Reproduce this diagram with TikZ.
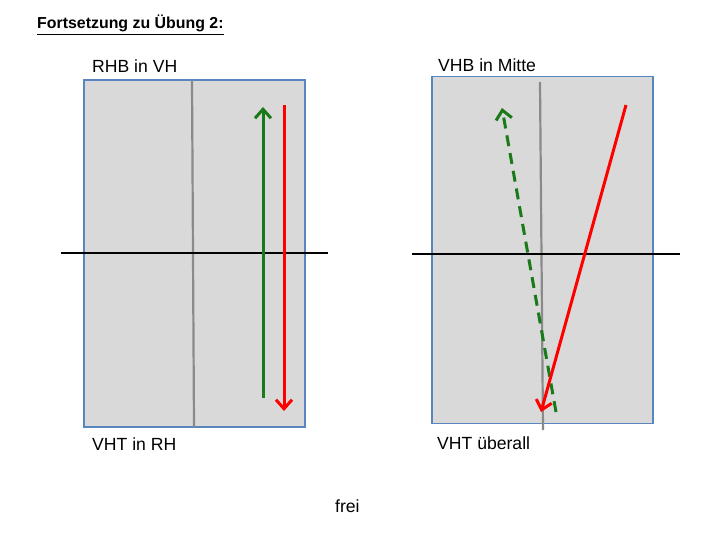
\documentclass[tikz,border=0pt]{standalone}
\usepackage{fontspec}
\setmainfont{Liberation Sans}
\usetikzlibrary{arrows.meta}
\definecolor{panelfill}{HTML}{D9D9D9}
\definecolor{panelborder}{HTML}{5A86C0}
\definecolor{divider}{HTML}{8A8A8A}
\definecolor{arrgreen}{HTML}{1A7A1A}
\definecolor{arrred}{HTML}{FF0000}
\tikzset{
  panel/.style={draw=panelborder, line width=1.6pt, fill=panelfill, minimum width=221pt, minimum height=347pt, inner sep=0pt, outer sep=0pt},
  divline/.style={draw=divider, line width=2.2pt},
  axisline/.style={draw=black, line width=1.7pt},
  arr/.style={line width=3pt, -{Straight Barb[length=9pt,width=16pt]}},
  lbl/.style={anchor=base west, inner sep=0pt, font=\fontsize{17.6}{21}\selectfont},
}
\begin{document}
\begin{tikzpicture}[x=1pt,y=-1pt]
\useasboundingbox[fill=white] (0,0) rectangle (720,540);
% title
\node[anchor=base west, inner sep=0pt, font=\fontsize{15.9}{19}\selectfont\bfseries] (title) at (37,29) {\underline{Fortsetzung zu Übung 2:}};
% left panel
\node[panel] (L) at (194.5,253.5) {};
\coordinate (Ldt) at (192,80);
\coordinate (Ldb) at (194,427);
\draw[divline] (Ldt) -- (Ldb);
\coordinate (Lal) at (61,253);
\coordinate (Lar) at (328,253);
\draw[axisline] (Lal) -- (Lar);
\coordinate (Lg1) at (263,398);
\coordinate (Lg2) at (263,107);
\draw[arr, draw=arrgreen] (Lg1) -- (Lg2);
\coordinate (Lr1) at (284,105);
\coordinate (Lr2) at (284,411);
\draw[arr, draw=arrred] (Lr1) -- (Lr2);
\node[lbl] (Ltop) at (92,73) {RHB in VH};
\node[lbl] (Lbot) at (92,450) {VHT in RH};
% right panel
\node[panel] (R) at (542.5,250) {};
\coordinate (Rdt) at (540,82);
\coordinate (Rdb) at (543,430);
\draw[divline] (Rdt) -- (Rdb);
\coordinate (Ral) at (412,254);
\coordinate (Rar) at (680,254);
\draw[axisline] (Ral) -- (Rar);
\coordinate (Rg1) at (556,412);
\coordinate (Rg2) at (502,108);
\draw[arr, draw=arrgreen, dash pattern=on 11pt off 7pt] (Rg1) -- (Rg2);
\coordinate (Rr1) at (626,105);
\coordinate (Rr2) at (541,412);
\draw[arr, draw=arrred] (Rr1) -- (Rr2);
\node[lbl] (Rtop) at (438,72) {VHB in Mitte};
\node[lbl] (Rbot) at (437,449) {VHT überall};
% bottom
\node[lbl] (frei) at (335,512) {frei};
\end{tikzpicture}
\end{document}
